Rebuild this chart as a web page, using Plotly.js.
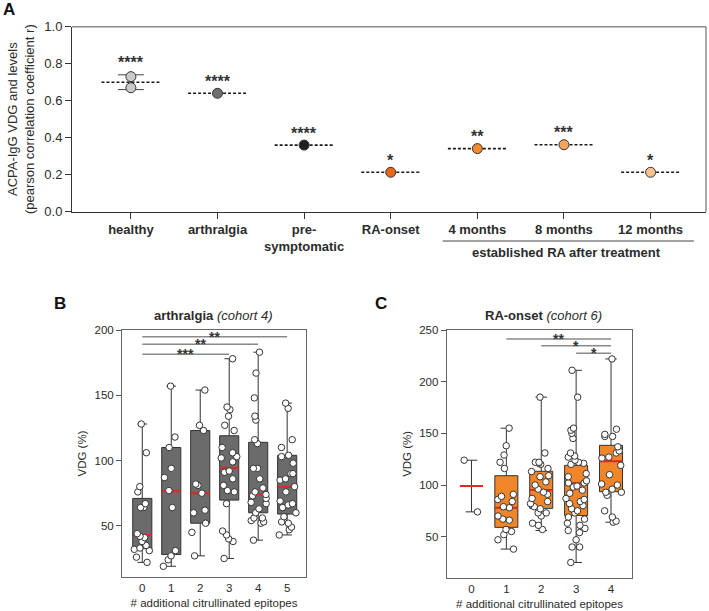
<!DOCTYPE html>
<html>
<head>
<meta charset="utf-8">
<script src="https://cdn.plot.ly/plotly-3.0.1.min.js"></script>
<style>
  html, body { margin: 0; padding: 0; background: #fff; }
  #chart { width: 709px; height: 611px; }
</style>
</head>
<body>
<div id="chart"></div>
<script>
// Panel A - correlation VDG vs ACPA-IgG levels
const catsA = ['healthy', 'arthralgia', 'pre-<br>symptomatic', 'RA-onset', '4 months', '8 months', '12 months'];
const meanA = [0.70, 0.64, 0.36, 0.213, 0.341, 0.362, 0.213];
const pointsA = [[0.73, 0.67], [0.64], [0.36], [0.213], [0.341], [0.362], [0.213]];
const errLowA = [0.66, null, null, null, null, null, null];
const errHighA = [0.74, null, null, null, null, null, null];
const starsA = ['****', '****', '****', '*', '**', '***', '*'];
const colorsA = ['#cacaca', '#6f6f6f', '#1f1f1f', '#e9661d', '#f18a30', '#f5a45c', '#f9c18e'];

// Panel B - arthralgia (cohort 4)
const catsB = ['0', '1', '2', '3', '4', '5'];
const pointsB = [
  [128, 106, 80, 76, 67, 64, 64, 44, 42, 41, 38, 35, 33, 32, 31, 26, 22],
  [157, 118, 110, 94, 87, 77, 64, 31, 27, 24, 19],
  [154, 127, 123, 82, 81, 75, 62, 60, 52, 45, 27],
  [178, 141, 139, 134, 127, 123, 110, 106, 103, 102, 99, 92, 91, 86, 81, 77, 76, 67, 46, 43, 40, 38, 25],
  [183, 167, 148, 134, 131, 116, 113, 94, 94, 86, 79, 76, 74, 73, 71, 68, 67, 63, 60, 56, 56, 54, 53, 52, 39],
  [144, 140, 116, 110, 104, 103, 98, 90, 90, 86, 85, 80, 76, 69, 67, 66, 64, 60, 57, 53, 52, 49, 47, 43]
];
const q1B = [32.5, 28, 52, 69.7, 60, 59];
const medB = [43, 76.5, 75, 94.5, 74, 80];
const q3B = [71, 110, 123, 119, 114, 104];
const lowB = [22, 19, 27, 25, 39, 43];
const highB = [128, 157, 154, 178, 183, 144];
const sigFromB = [0, 0, 0];
const sigToB = [5, 4, 3];
const sigYB = [194.9, 189, 181.4];
const sigTextB = ['**', '**', '***'];

// Panel C - RA-onset (cohort 6)
const catsC = ['0', '1', '2', '3', '4'];
const pointsC = [
  [124, 74],
  [155, 138, 129, 122, 116, 91, 89, 86, 84, 79, 78, 70, 67, 66, 57, 55, 52, 47, 38],
  [185, 131, 122, 122, 121, 120, 116, 113, 109, 108, 103, 100, 96, 93, 91, 87, 84, 82, 79, 77, 73, 73, 70, 63, 61, 57],
  [211, 185, 155, 153, 150, 145, 131, 128, 127, 124, 122, 121, 120, 111, 108, 104, 102, 102, 99, 98, 95, 92, 87, 86, 84, 82, 80, 77, 75, 73, 69, 67, 63, 61, 58, 56, 54, 47, 40, 40, 25],
  [222, 154, 149, 147, 147, 137, 133, 131, 127, 126, 119, 110, 101, 100, 96, 93, 93, 90, 75, 69, 65, 64]
];
const q1C = [99, 59, 77.4, 70.5, 93.5];
const medC = [99, 78, 95.2, 101.6, 123];
const q3C = [99, 109, 113.3, 119, 138.4];
const lowC = [74, 38, 56, 25, 64];
const highC = [124, 155, 185, 211, 222];
const sigFromC = [1, 2, 3];
const sigToC = [4, 4, 4];
const sigYC = [241.3, 234.8, 227.5];
const sigTextC = ['**', '*', '*'];

const FONT = 'Liberation Sans, Arial, Helvetica, sans-serif';
const TXT = '#2b2b2b';
const RED = '#e8251f';

const traces = [];
const annotations = [];
const shapes = [];

// ---- Panel A ----
const dashX = [], dashY = [];
meanA.forEach((m, i) => {
  dashX.push(i - 0.34, i + 0.34, null);
  dashY.push(m, m, null);
});
traces.push({
  x: dashX, y: dashY, xaxis: 'x', yaxis: 'y',
  type: 'scatter', mode: 'lines',
  line: { color: '#1a1a1a', width: 1.6, dash: '3px,2px' },
  hoverinfo: 'skip'
});

const errIdx = meanA.map((m, i) => i).filter(i => errLowA[i] !== null);
traces.push({
  x: errIdx, y: errIdx.map(i => meanA[i]), xaxis: 'x', yaxis: 'y',
  type: 'scatter', mode: 'markers',
  marker: { size: 1, color: 'rgba(0,0,0,0)' },
  error_y: {
    type: 'data', symmetric: false,
    array: errIdx.map(i => errHighA[i] - meanA[i]),
    arrayminus: errIdx.map(i => meanA[i] - errLowA[i]),
    color: '#444', thickness: 1, width: 13
  },
  hoverinfo: 'skip'
});

const ptX = [], ptY = [], ptC = [];
pointsA.forEach((arr, i) => arr.forEach(v => { ptX.push(i); ptY.push(v); ptC.push(colorsA[i]); }));
traces.push({
  x: ptX, y: ptY, xaxis: 'x', yaxis: 'y',
  type: 'scatter', mode: 'markers',
  marker: { size: 10, color: ptC, line: { color: '#333', width: 1 } }
});

starsA.forEach((s, i) => {
  const top = errHighA[i] !== null ? errHighA[i] : meanA[i];
  annotations.push({
    x: i, y: top, xref: 'x', yref: 'y', text: '<b>' + s + '</b>', showarrow: false,
    xanchor: 'center', yanchor: 'middle', yshift: 12,
    font: { family: FONT, size: 16, color: '#333' }
  });
});

// ---- Panels B and C ----
function boxPanel(xa, ya, cats, pts, q1, med, q3, lo, hi, fill) {
  const pos = cats.map((c, i) => i);
  traces.push({
    type: 'box', x: pos, q1: q1, median: med, q3: q3,
    lowerfence: lo, upperfence: hi, xaxis: xa, yaxis: ya,
    width: 0.66, whiskerwidth: 0.5, boxpoints: false,
    fillcolor: fill, line: { color: '#333', width: 1 }
  });
  traces.push({
    type: 'box', x: pos, q1: med, median: med, q3: med,
    lowerfence: med, upperfence: med, xaxis: xa, yaxis: ya,
    width: 0.66, whiskerwidth: 0, boxpoints: false,
    fillcolor: 'rgba(0,0,0,0)', line: { color: RED, width: 2 }
  });
  const px = [], py = [];
  pts.forEach((arr, i) => arr.forEach(v => { px.push(i); py.push(v); }));
  traces.push({
    type: 'box', x: px, y: py, xaxis: xa, yaxis: ya,
    width: 0.66, whiskerwidth: 0, boxpoints: 'all', jitter: 1, pointpos: 0,
    fillcolor: 'rgba(0,0,0,0)', line: { color: 'rgba(0,0,0,0)', width: 0 },
    marker: { size: 6.5, color: '#ffffff', line: { color: '#333', width: 1 } }
  });
}
boxPanel('x2', 'y2', catsB, pointsB, q1B, medB, q3B, lowB, highB, '#6b6b6b');
boxPanel('x3', 'y3', catsC, pointsC, q1C, medC, q3C, lowC, highC, '#f0852a');

function sigBars(xa, ya, from, to, ys, labels) {
  from.forEach((f, i) => {
    shapes.push({
      type: 'line', xref: xa, yref: ya, x0: f, x1: to[i], y0: ys[i], y1: ys[i],
      line: { color: '#8a8a8a', width: 1.5 }
    });
    annotations.push({
      x: (f + to[i]) / 2, y: ys[i], xref: xa, yref: ya, text: '<b>' + labels[i] + '</b>',
      showarrow: false, xanchor: 'center', yanchor: 'middle', yshift: 0,
      font: { family: FONT, size: 14, color: '#333' }
    });
  });
}
sigBars('x2', 'y2', sigFromB, sigToB, sigYB, sigTextB);
sigBars('x3', 'y3', sigFromC, sigToC, sigYC, sigTextC);

// frame of panel A: grey top and right edges
shapes.push(
  { type: 'line', xref: 'x domain', yref: 'y domain', x0: 0, x1: 1, y0: 1, y1: 1, line: { color: '#8c8c8c', width: 1.5 } },
  { type: 'line', xref: 'x domain', yref: 'y domain', x0: 1, x1: 1, y0: 0, y1: 1, line: { color: '#8c8c8c', width: 1.5 } },
  // bracket line under the treatment months
  { type: 'line', xref: 'x', yref: 'paper', x0: 3.6, x1: 6.5, y0: 1 - 241 / 611, y1: 1 - 241 / 611, line: { color: '#444', width: 1 } }
);

function paperNote(text, x, y, size, anchor) {
  annotations.push({
    text: text, xref: 'paper', yref: 'paper', x: x / 709, y: 1 - y / 611,
    xanchor: anchor || 'center', yanchor: 'middle', showarrow: false,
    font: { family: FONT, size: size, color: anchor ? '#111' : TXT }
  });
}
paperNote('<b>established RA after treatment</b>', 566, 252.5, 13);
paperNote('<b>A</b>', 1, 9, 17, 'left');
paperNote('<b>B</b>', 52, 303, 17, 'left');
paperNote('<b>C</b>', 373, 303, 17, 'left');
paperNote('<b>arthralgia</b> <i>(cohort 4)</i>', 214, 315, 13);
paperNote('<b>RA-onset</b> <i>(cohort 6)</i>', 543, 315, 13);

const tickF = { family: FONT, size: 11.5, color: TXT };
const boxX = {
  ticks: '', showline: true, mirror: true, linecolor: '#666', linewidth: 1,
  showgrid: false, zeroline: false, tickfont: tickF,
  title: { text: '# additional citrullinated epitopes', font: tickF, standoff: 6 }
};
const boxY = {
  ticks: 'outside', ticklen: 5, tickcolor: '#555', showline: true, mirror: true,
  linecolor: '#666', linewidth: 1, showgrid: false, zeroline: false, tickfont: tickF,
  title: { text: 'VDG (%)', font: tickF, standoff: 5 }
};

const layout = {
  width: 709, height: 611,
  margin: { l: 0, r: 0, t: 0, b: 0 },
  paper_bgcolor: '#fff', plot_bgcolor: '#fff',
  showlegend: false,
  font: { family: FONT, color: TXT },
  boxmode: 'overlay',
  xaxis: {
    domain: [72 / 709, 706 / 709], range: [-0.68, 6.64], anchor: 'y',
    tickvals: catsA.map((c, i) => i), ticktext: catsA,
    ticks: 'outside', ticklen: 6, tickcolor: '#333',
    showline: true, linecolor: '#333', linewidth: 1,
    showgrid: false, zeroline: false,
    tickfont: { family: FONT, size: 13, weight: 'bold', color: TXT }
  },
  yaxis: {
    domain: [1 - 211.7 / 611, 1 - 26.7 / 611], range: [0, 1], anchor: 'x',
    tickvals: [0, 0.2, 0.4, 0.6, 0.8, 1.0], tickformat: '.1f',
    ticks: 'outside', ticklen: 6, tickcolor: '#333',
    showline: true, linecolor: '#333', linewidth: 1,
    showgrid: false, zeroline: false,
    tickfont: { family: FONT, size: 13, color: TXT },
    title: { text: 'ACPA-IgG VDG and levels<br>(pearson correlation coefficient r)',
             font: { family: FONT, size: 13, color: TXT }, standoff: 6 }
  },
  xaxis2: Object.assign({}, boxX, {
    domain: [122 / 709, 306 / 709], range: [-0.7, 5.65], anchor: 'y2',
    tickvals: catsB.map((c, i) => i), ticktext: catsB
  }),
  yaxis2: Object.assign({}, boxY, {
    domain: [1 - 577 / 611, 1 - 330 / 611], range: [10.8, 200], anchor: 'x2',
    tickvals: [50, 100, 150, 200]
  }),
  xaxis3: Object.assign({}, boxX, {
    domain: [446.7 / 709, 632.3 / 709], range: [-0.71, 4.61], anchor: 'y3',
    tickvals: catsC.map((c, i) => i), ticktext: catsC
  }),
  yaxis3: Object.assign({}, boxY, {
    domain: [1 - 577.7 / 611, 1 - 330 / 611], range: [10.3, 250], anchor: 'x3',
    tickvals: [50, 100, 150, 200, 250]
  }),
  shapes: shapes,
  annotations: annotations
};

Plotly.newPlot('chart', traces, layout, { staticPlot: true });
</script>
</body>
</html>
